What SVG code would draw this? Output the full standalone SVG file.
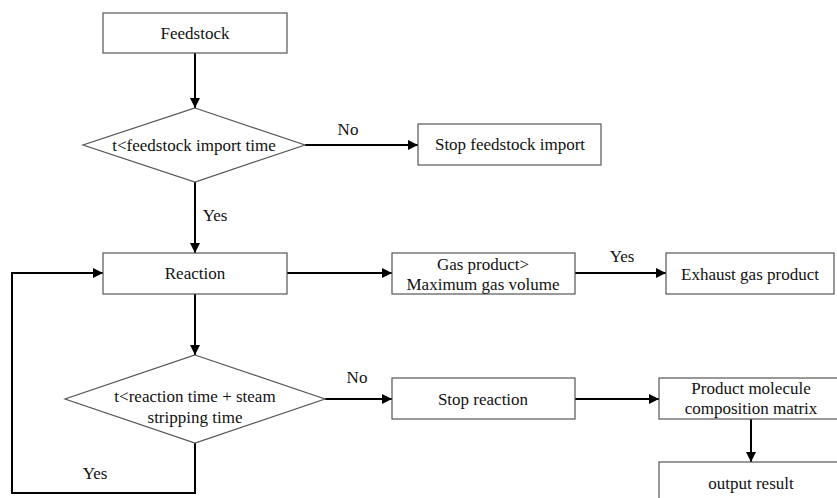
<svg xmlns="http://www.w3.org/2000/svg" width="837" height="498" viewBox="0 0 837 498">
<style>
.box{fill:#fff;stroke:#555;stroke-width:1.2}
.t{font-family:"Liberation Serif","Times New Roman",serif;font-size:17px;fill:#111;text-anchor:middle}
.c{fill:none;stroke:#000;stroke-width:2}
</style>
<defs>
<marker id="ah" viewBox="0 0 10 10" refX="10" refY="5" markerWidth="10" markerHeight="10" markerUnits="userSpaceOnUse" orient="auto">
<path d="M0,0 L10,5 L0,10 Z" fill="#000"/>
</marker>
</defs>
<rect width="837" height="498" fill="#fff"/>
<g id="connectors">
<path class="c" d="M195,53 V108" marker-end="url(#ah)"/>
<path class="c" d="M305,145 H418" marker-end="url(#ah)"/>
<path class="c" d="M195,182 V253" marker-end="url(#ah)"/>
<path class="c" d="M287,273 H392" marker-end="url(#ah)"/>
<path class="c" d="M575,273 H666" marker-end="url(#ah)"/>
<path class="c" d="M195,294 V355" marker-end="url(#ah)"/>
<path class="c" d="M325,399 H392" marker-end="url(#ah)"/>
<path class="c" d="M575,399 H659" marker-end="url(#ah)"/>
<path class="c" d="M751,419 V462" marker-end="url(#ah)"/>
<path class="c" d="M195,443 V493 H12 V273 H103" marker-end="url(#ah)"/>
<text class="t" x="348" y="135">No</text>
<text class="t" x="215" y="221">Yes</text>
<text class="t" x="622" y="262">Yes</text>
<text class="t" x="357" y="383">No</text>
<text class="t" x="95" y="479">Yes</text>
</g>
<g id="feedstock">
<rect class="box" x="103" y="13" width="184" height="40"/>
<text class="t" x="195" y="39">Feedstock</text>
</g>
<g id="decision1">
<polygon class="box" points="195,108 305,145 195,182 83,145"/>
<text class="t" x="194" y="151">t&lt;feedstock import time</text>
</g>
<g id="stop-import">
<rect class="box" x="418" y="124" width="183" height="41"/>
<text class="t" x="510" y="150">Stop feedstock import</text>
</g>
<g id="reaction">
<rect class="box" x="103" y="253" width="184" height="41"/>
<text class="t" x="195" y="279">Reaction</text>
</g>
<g id="gas-check">
<rect class="box" x="392" y="253" width="183" height="41"/>
<text class="t" x="483" y="270">Gas product&gt;</text>
<text class="t" x="483" y="290">Maximum gas volume</text>
</g>
<g id="exhaust">
<rect class="box" x="666" y="253" width="168" height="41"/>
<text class="t" x="750" y="280">Exhaust gas product</text>
</g>
<g id="decision2">
<polygon class="box" points="195,355 325,399 195,443 65,399"/>
<text class="t" x="195" y="402">t&lt;reaction time + steam</text>
<text class="t" x="195" y="423">stripping time</text>
</g>
<g id="stop-reaction">
<rect class="box" x="392" y="378" width="183" height="41"/>
<text class="t" x="483" y="405">Stop reaction</text>
</g>
<g id="matrix">
<rect class="box" x="659" y="378" width="184" height="41"/>
<text class="t" x="751" y="394">Product molecule</text>
<text class="t" x="751" y="414">composition matrix</text>
</g>
<g id="output">
<rect class="box" x="659" y="462" width="184" height="41"/>
<text class="t" x="751" y="489">output result</text>
</g>
</svg>
